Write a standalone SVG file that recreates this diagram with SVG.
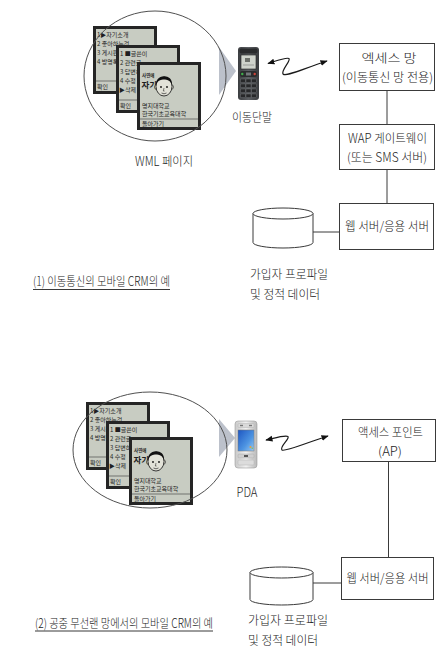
<svg xmlns="http://www.w3.org/2000/svg" width="438" height="650" viewBox="0 0 438 650">
  <style>
    .lbl{font-family:"Noto Sans CJK KR","Liberation Sans",sans-serif;font-size:12.5px;font-weight:300;fill:#222}
    .mini{font-family:"Noto Sans CJK KR",sans-serif;font-size:6px;fill:#1f1f1f}
    .box{fill:#fff;stroke:#3a3a3a;stroke-width:1}
    .wire{fill:none;stroke:#3a3a3a;stroke-width:1}
    .zap{fill:none;stroke:#1a1a1a;stroke-width:1.2}
    .ring{fill:none;stroke:#505050;stroke-width:1}
    .db{fill:#fff;stroke:#3a3a3a;stroke-width:1}
    .frame{fill:#c8ccc2;stroke:#252525;stroke-width:3}
    .sep{stroke:#4a4a4a;stroke-width:0.7}
    .arrowhint{fill:#bcc1cb}
    .uline{stroke:#222;stroke-width:0.9}
  </style>
  <defs>
    <marker id="ah" viewBox="0 0 10 10" refX="9" refY="5" markerWidth="6" markerHeight="6" orient="auto-start-reverse">
      <path d="M0,1 L10,5 L0,9 z" fill="#111"/>
    </marker>
    <linearGradient id="silver" x1="0" y1="0" x2="1" y2="0">
      <stop offset="0" stop-color="#c9c9c9"/>
      <stop offset="0.5" stop-color="#f1f1f1"/>
      <stop offset="1" stop-color="#b9b9b9"/>
    </linearGradient>
    <linearGradient id="pdaScreen" x1="0" y1="0" x2="1" y2="1">
      <stop offset="0" stop-color="#1d56c2"/>
      <stop offset="0.6" stop-color="#4d94e2"/>
      <stop offset="1" stop-color="#9ccaf2"/>
    </linearGradient>
    <linearGradient id="handsetBody" x1="0" y1="0" x2="1" y2="0">
      <stop offset="0" stop-color="#3c3e41"/>
      <stop offset="0.5" stop-color="#5d6064"/>
      <stop offset="1" stop-color="#3a3c3f"/>
    </linearGradient>

    <!-- WML card: main menu -->
    <g id="scr-menu">
      <rect class="frame" x="1.5" y="1.5" width="61" height="65"/>
      <text class="mini" x="4" y="11">1▶자기소개</text>
      <text class="mini" x="4" y="20">2  좋아하는것</text>
      <text class="mini" x="4" y="29">3  게시판</text>
      <text class="mini" x="4" y="38">4  방명록</text>
      <line class="sep" x1="3" y1="55" x2="61" y2="55"/>
      <text class="mini" x="4" y="63">확인</text>
    </g>
    <!-- WML card: board menu -->
    <g id="scr-post">
      <rect class="frame" x="1.5" y="1.5" width="61" height="65"/>
      <text class="mini" x="4" y="11">1 ■글쓴이</text>
      <text class="mini" x="4" y="20">2  관련글</text>
      <text class="mini" x="4" y="29">3  답변하기</text>
      <text class="mini" x="4" y="38">4  수정</text>
      <text class="mini" x="3" y="47">▶삭제</text>
      <line class="sep" x1="3" y1="55" x2="61" y2="55"/>
      <text class="mini" x="4" y="63">확인</text>
    </g>
    <!-- WML card: profile page with portrait -->
    <g id="scr-intro">
      <rect class="frame" x="1.5" y="1.5" width="61" height="65"/>
      <text class="mini" x="5" y="15" style="font-size:4.5px;font-weight:bold">사연애</text>
      <text class="mini" x="4.5" y="26" style="font-size:8.5px;font-weight:bold">자기</text>
      <ellipse cx="18.8" cy="25" rx="1.2" ry="2" fill="#d8d8cc" stroke="#111" stroke-width="0.6"/>
      <ellipse cx="35.2" cy="25" rx="1.2" ry="2" fill="#d8d8cc" stroke="#111" stroke-width="0.6"/>
      <ellipse cx="27" cy="24.5" rx="8" ry="9.5" fill="#e2e2d8" stroke="#111" stroke-width="0.8"/>
      <path d="M19,23 C18,12 36,11 35,23 C33,18 30,17.5 27,17.5 C24,17.5 21,18 19,23 Z" fill="#111"/>
      <circle cx="24" cy="25" r="0.9" fill="#111"/>
      <circle cx="30" cy="25" r="0.9" fill="#111"/>
      <path d="M27,26 L26.3,29 L27.6,29" fill="none" stroke="#111" stroke-width="0.5"/>
      <path d="M24.5,31 Q27,32.6 29.5,31" fill="none" stroke="#111" stroke-width="0.6"/>
      <text class="mini" x="5" y="46">명지대학교</text>
      <text class="mini" x="5" y="53.5">한국기초교육대학</text>
      <line class="sep" x1="3" y1="57" x2="61" y2="57"/>
      <text class="mini" x="5" y="64">돌아가기</text>
    </g>
  </defs>

  <rect width="438" height="650" fill="#fff"/>

  <!-- ===== (1) mobile network ===== -->
  <g id="wml-pages-1">
    <use href="#scr-menu" x="93" y="26"/>
    <use href="#scr-post" x="116" y="45"/>
    <use href="#scr-intro" x="137" y="62"/>
    <polygon class="arrowhint" points="219,47 236,71 219,95"/>
    <ellipse class="ring" cx="155" cy="76" rx="71" ry="65"/>
    <text class="lbl" x="164" y="166" text-anchor="middle" textLength="58" lengthAdjust="spacingAndGlyphs">WML 페이지</text>
  </g>

  <g id="handset">
    <rect x="238" y="47" width="21" height="53" rx="3" fill="url(#handsetBody)"/>
    <rect x="239.5" y="48.5" width="18" height="5" rx="2" fill="#2a2b2d"/>
    <rect x="241" y="55" width="15" height="14" fill="#cfd3cc" stroke="#1e1e1e" stroke-width="0.6"/>
    <rect x="245" y="58" width="5" height="4" fill="#6c6f6a"/>
    <line x1="243" y1="65" x2="254" y2="65" stroke="#777" stroke-width="0.6"/>
    <rect x="240" y="71" width="17" height="6" rx="2" fill="#2b2c2e"/>
    <circle cx="242.3" cy="74" r="1.2" fill="#3fae4a"/>
    <circle cx="254.7" cy="74" r="1.2" fill="#d0453a"/>
    <rect x="246" y="72.5" width="5" height="3" fill="#74777b"/>
    <g fill="#27282a" stroke="#77797d" stroke-width="0.4">
      <rect x="240.5" y="79" width="5" height="3.6"/><rect x="246" y="79" width="5" height="3.6"/><rect x="251.5" y="79" width="5" height="3.6"/>
      <rect x="240.5" y="84" width="5" height="3.6"/><rect x="246" y="84" width="5" height="3.6"/><rect x="251.5" y="84" width="5" height="3.6"/>
      <rect x="240.5" y="89" width="5" height="3.6"/><rect x="246" y="89" width="5" height="3.6"/><rect x="251.5" y="89" width="5" height="3.6"/>
      <rect x="240.5" y="94" width="5" height="3.6"/><rect x="246" y="94" width="5" height="3.6"/><rect x="251.5" y="94" width="5" height="3.6"/>
    </g>
    <text class="lbl" x="252" y="121.5" text-anchor="middle" textLength="40" lengthAdjust="spacingAndGlyphs">이동단말</text>
  </g>

  <g id="access-net">
    <rect class="box" x="339.5" y="43.5" width="95" height="47"/>
    <text class="lbl" x="389" y="63" text-anchor="middle" textLength="55" lengthAdjust="spacingAndGlyphs">엑세스 망</text>
    <text class="lbl" x="387.5" y="82" text-anchor="middle" textLength="91" lengthAdjust="spacingAndGlyphs">(이동통신 망 전용)</text>
  </g>

  <g id="wap-gateway">
    <rect class="box" x="339.5" y="124.5" width="95" height="45"/>
    <text class="lbl" x="387.5" y="143" text-anchor="middle" textLength="79" lengthAdjust="spacingAndGlyphs">WAP 게이트웨이</text>
    <text class="lbl" x="387" y="162" text-anchor="middle" textLength="80" lengthAdjust="spacingAndGlyphs">(또는 SMS 서버)</text>
  </g>

  <g id="web-server-1">
    <rect class="box" x="339.5" y="203.5" width="94" height="46"/>
    <text class="lbl" x="387" y="231" text-anchor="middle" textLength="84" lengthAdjust="spacingAndGlyphs">웹 서버/응용 서버</text>
  </g>

  <g id="profile-db-1">
    <path class="db" d="M253,213.5 V242.5 A30,5.5 0 0 0 313,242.5 V213.5"/>
    <ellipse class="db" cx="283" cy="213.5" rx="30" ry="5.5"/>
    <text class="lbl" x="250" y="279" textLength="78" lengthAdjust="spacingAndGlyphs">가입자 프로파일</text>
    <text class="lbl" x="250" y="299" textLength="70" lengthAdjust="spacingAndGlyphs">및 정적 데이터</text>
  </g>

  <g id="caption-1">
    <text class="lbl" x="33" y="286" textLength="137" lengthAdjust="spacingAndGlyphs">(1) 이동통신의 모바일 CRM의 예</text>
    <line class="uline" x1="33" y1="289.5" x2="170" y2="289.5"/>
  </g>

  <!-- ===== (2) public WLAN ===== -->
  <g id="wml-pages-2">
    <use href="#scr-menu" x="86" y="402"/>
    <use href="#scr-post" x="106" y="421"/>
    <use href="#scr-intro" x="129" y="437"/>
    <polygon class="arrowhint" points="219,419 235,438 219,457"/>
    <ellipse class="ring" cx="150" cy="450" rx="77" ry="58"/>
  </g>

  <g id="pda">
    <rect x="235" y="421" width="22" height="47" rx="3" fill="url(#silver)" stroke="#9c9c9c" stroke-width="0.6"/>
    <rect x="238" y="423.5" width="16" height="4" rx="1" fill="#d9d9d9" stroke="#a8a8a8" stroke-width="0.4"/>
    <rect x="240" y="424.8" width="3" height="1.4" fill="#777"/>
    <rect x="249" y="424.8" width="3" height="1.4" fill="#777"/>
    <rect x="238" y="430" width="16" height="21" fill="url(#pdaScreen)" stroke="#7a7a7a" stroke-width="0.5"/>
    <circle cx="250.5" cy="447" r="1" fill="#e9a13b"/>
    <circle cx="252.3" cy="448.3" r="0.8" fill="#8bc34a"/>
    <rect x="238" y="454" width="16" height="4" rx="1" fill="#cfcfcf" stroke="#a0a0a0" stroke-width="0.4"/>
    <rect x="244" y="455" width="4" height="2" fill="#555"/>
    <rect x="238" y="460" width="16" height="5" rx="1" fill="#dcdcdc" stroke="#aaa" stroke-width="0.4"/>
    <text class="lbl" x="247" y="497" text-anchor="middle" textLength="21" lengthAdjust="spacingAndGlyphs">PDA</text>
  </g>

  <g id="access-point">
    <rect class="box" x="342.5" y="419.5" width="93" height="42"/>
    <text class="lbl" x="390.5" y="436.5" text-anchor="middle" textLength="65" lengthAdjust="spacingAndGlyphs">액세스 포인트</text>
    <text class="lbl" x="390" y="455.5" text-anchor="middle" textLength="24" lengthAdjust="spacingAndGlyphs">(AP)</text>
  </g>

  <g id="web-server-2">
    <rect class="box" x="341.5" y="557.5" width="92" height="42"/>
    <text class="lbl" x="387.5" y="582.5" text-anchor="middle" textLength="82" lengthAdjust="spacingAndGlyphs">웹 서버/응용 서버</text>
  </g>

  <g id="profile-db-2">
    <path class="db" d="M250,572.5 V599.5 A31.5,5.5 0 0 0 313,599.5 V572.5"/>
    <ellipse class="db" cx="281.5" cy="572.5" rx="31.5" ry="5.5"/>
    <text class="lbl" x="248" y="625" textLength="80" lengthAdjust="spacingAndGlyphs">가입자 프로파일</text>
    <text class="lbl" x="248" y="645" textLength="70" lengthAdjust="spacingAndGlyphs">및 정적 데이터</text>
  </g>

  <g id="caption-2">
    <text class="lbl" x="35" y="627.5" textLength="178" lengthAdjust="spacingAndGlyphs">(2) 공중 무선랜 망에서의 모바일 CRM의 예</text>
    <line class="uline" x1="35" y1="631" x2="213" y2="631"/>
  </g>

  <!-- links -->
  <g id="connectors">
    <path class="zap" d="M268,63.5 C276,61 286,57 289,58.5 C291,61 281,70 283,74 C286,77 300,70 327,61" marker-start="url(#ah)" marker-end="url(#ah)"/>
    <line class="wire" x1="387" y1="91" x2="387" y2="124"/>
    <line class="wire" x1="387" y1="170" x2="387" y2="203"/>
    <line class="wire" x1="313" y1="232" x2="339" y2="232"/>

    <path class="zap" d="M266,440 C275,438 285,435 288,436.5 C290,439 279,447 282,450 C285,452 300,445 328,436" marker-start="url(#ah)" marker-end="url(#ah)"/>
    <line class="wire" x1="388.5" y1="462" x2="388.5" y2="557"/>
    <line class="wire" x1="313" y1="583" x2="341" y2="583"/>
  </g>
</svg>
